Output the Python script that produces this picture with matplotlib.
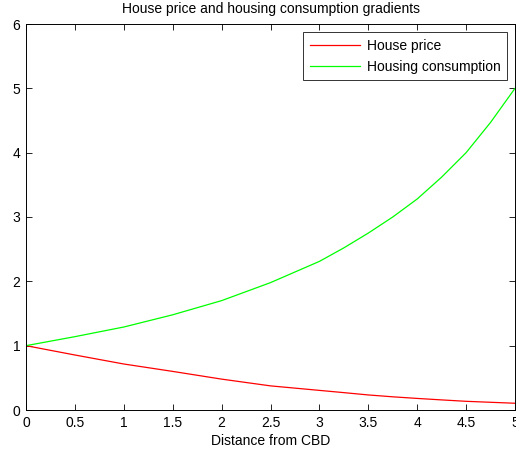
import matplotlib
matplotlib.use("Agg")
import matplotlib.pyplot as plt

distance = [0, 0.5, 1, 1.5, 2, 2.5, 3, 3.25, 3.5, 3.75, 4, 4.25, 4.5, 4.75, 5]
house_price = [1.0, 0.855, 0.715, 0.60, 0.48, 0.375, 0.305, 0.27, 0.234, 0.205, 0.18, 0.157, 0.135, 0.12, 0.105]
housing_consumption = [1.0, 1.14, 1.29, 1.48, 1.70, 1.98, 2.31, 2.52, 2.75, 3.0, 3.28, 3.62, 4.0, 4.47, 5.0]
xticks = [0, 0.5, 1, 1.5, 2, 2.5, 3, 3.5, 4, 4.5, 5]
xtick_labels = ["0", "0.5", "1", "1.5", "2", "2.5", "3", "3.5", "4", "4.5", "5"]
yticks = [0, 1, 2, 3, 4, 5, 6]

plt.rcParams['font.family'] = ['Liberation Sans', 'DejaVu Sans']
fig = plt.figure(figsize=(5.16, 4.57), dpi=100)
ax = fig.add_axes([26/516, 47/457, 489/516, 386/457])
ax.plot(distance, house_price, color=(1, 0, 0), lw=0.9, label="House price")
ax.plot(distance, housing_consumption, color=(0, 1, 0), lw=0.9, label="Housing consumption")
ax.set_xlim(0, 5)
ax.set_ylim(0, 6)
ax.set_xticks(xticks)
ax.set_xticklabels(xtick_labels)
ax.set_yticks(yticks)
ax.tick_params(direction='in', top=True, right=True, length=4, width=0.6, labelsize=10, pad=4)
for s in ax.spines.values():
    s.set_linewidth(0.7)
ax.set_xlabel("Distance from CBD", fontsize=10, labelpad=3)
ax.set_title("House price and housing consumption gradients", fontsize=10, pad=8)
leg = ax.legend(loc='upper right', fontsize=10, frameon=True, fancybox=False,
                edgecolor='black', borderaxespad=0.6, handlelength=3.6, borderpad=0.45,
                labelspacing=0.55, handletextpad=0.5)
leg.get_frame().set_linewidth(0.7)
fig.savefig("out.png", dpi=100)
